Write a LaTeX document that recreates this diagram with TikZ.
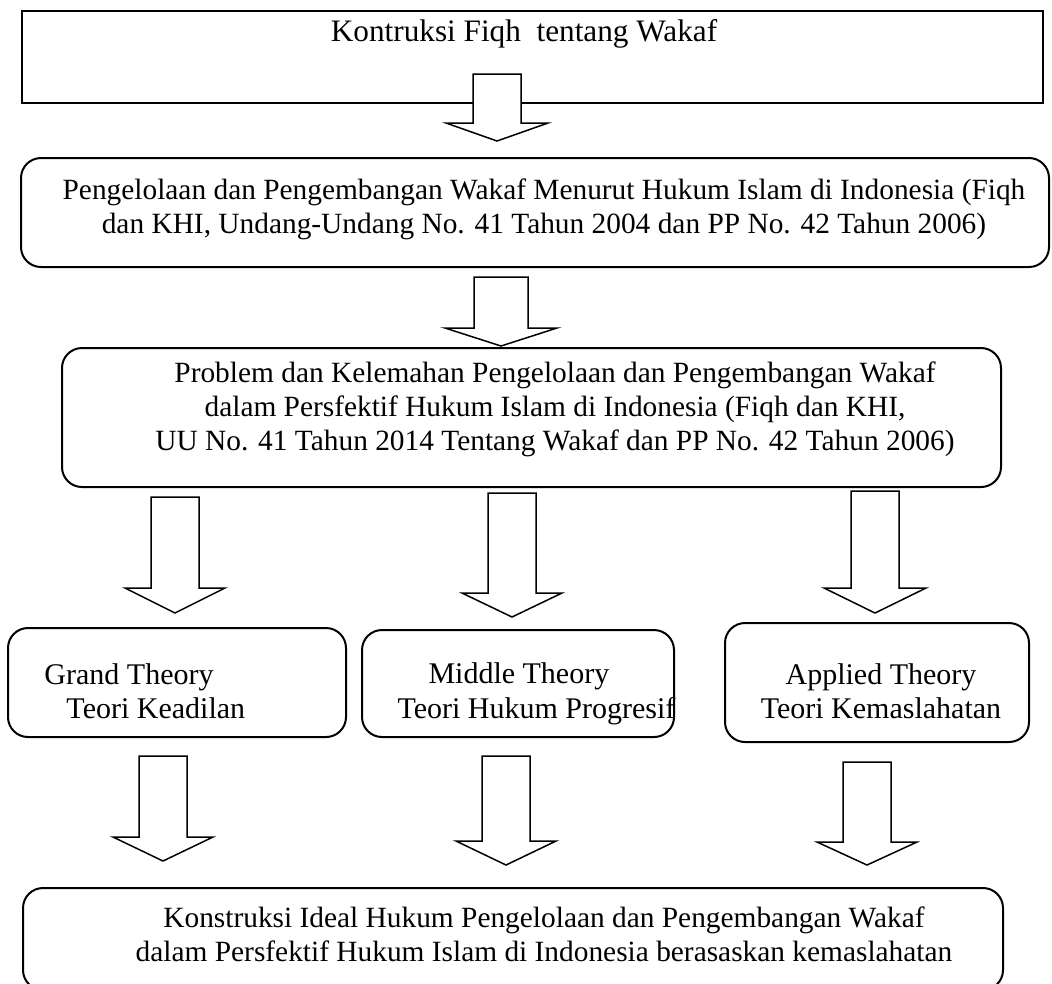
\documentclass[tikz,border=0pt]{standalone}
\usepackage{fontspec}
\setmainfont{Liberation Serif}
\usetikzlibrary{fit}

\tikzset{
	box/.style={draw, line width=0.8pt, inner sep=0pt},
	rbox/.style={box, rounded corners=8pt},
	txt/.style={inner sep=0pt, align=center, font=\fontsize{12}{13.8}\selectfont},
	longtxt/.style={txt, font=\fontsize{11.75}{13.6}\selectfont},
	blockarrow/.style={draw, fill=white, line width=0.6pt, line join=miter},
}

\begin{document}
\begin{tikzpicture}[x=0.4pt, y=-0.4pt]
	\useasboundingbox (0,0) rectangle (1052,983);
	
	% boxes
	\node [box, fit={(22,11) (1043,103)}] (fiqh) {};
	\node [rbox, fit={(21,158) (1049,267)}] (kelola) {};
	\node [rbox, fit={(62,348) (1001,487)}] (masalah) {};
	\node [rbox, fit={(8,628) (346,737)}] (grand) {};
	\node [rbox, fit={(362,630) (674,737)}] (middle) {};
	\node [rbox, fit={(725,623) (1029,742)}] (applied) {};
	\node [rbox, fit={(23,888) (1003,990)}] (ideal) {};
	
	% texts
	\node [txt, font=\fontsize{12.5}{14}\selectfont] (fiqh-t) at (524,34) {Kontruksi Fiqh \ tentang Wakaf};
	\node [longtxt] (kelola-t) at (544,209) {Pengelolaan dan Pengembangan Wakaf Menurut Hukum Islam di Indonesia (Fiqh\\ dan KHI, Undang-Undang No. 41 Tahun 2004 dan PP No. 42 Tahun 2006)};
	\node [longtxt] (masalah-t) at (555,409) {Problem dan Kelemahan Pengelolaan dan Pengembangan Wakaf\\ dalam Persfektif Hukum Islam di Indonesia (Fiqh dan KHI,\\ UU No. 41 Tahun 2014 Tentang Wakaf dan PP No. 42 Tahun 2006)};
	\node [txt, align=left, anchor=west] (grand-t) at (44,691) {Grand Theory\\ \hspace*{8.8pt}Teori Keadilan};
	\node [txt, align=left, anchor=west] (middle-t) at (397,694) {\hspace*{12.4pt}Middle Theory\\ Teori Hukum Progresif};
	\node [txt] (applied-t) at (881,691) {Applied Theory\\ Teori Kemaslahatan};
	\node [longtxt] (ideal-t) at (544,934) {Konstruksi Ideal Hukum Pengelolaan dan Pengembangan Wakaf\\ dalam Persfektif Hukum Islam di Indonesia berasaskan kemaslahatan};
	
	% hollow arrows: x / shaft top / head base / tip / shaft half / head half
	\foreach \x/\ys/\yb/\yt/\sw/\hw in {497/74/123/141/24/51, 501/277/328/346/27/56,
		175/497/588/613/24/50, 512/493/593/617/24/50, 875/491/588/613/24/51,
		163/756/837/861/24/50, 506/756/841/865/24/50, 867/762/842/865/24/50}
		\draw [blockarrow] (\x-\sw,\ys) -- (\x+\sw,\ys) -- (\x+\sw,\yb) -- (\x+\hw,\yb)
			-- (\x,\yt) -- (\x-\hw,\yb) -- (\x-\sw,\yb) -- cycle;
\end{tikzpicture}
\end{document}
